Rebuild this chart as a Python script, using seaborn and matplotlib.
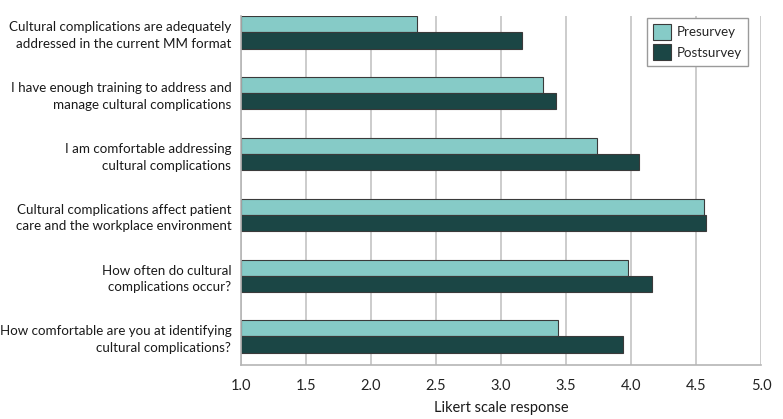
import matplotlib
matplotlib.use("Agg")
import matplotlib.pyplot as plt
import seaborn as sns
import pandas as pd
from matplotlib.patches import Patch

questions = [
    "Cultural complications are adequately\naddressed in the current MM format",
    "I have enough training to address and\nmanage cultural complications",
    "I am comfortable addressing\ncultural complications",
    "Cultural complications affect patient\ncare and the workplace environment",
    "How often do cultural\ncomplications occur?",
    "How comfortable are you at identifying\ncultural complications?",
]
presurvey = [2.35, 3.32, 3.74, 4.56, 3.98, 3.44]
postsurvey = [3.16, 3.42, 4.06, 4.58, 4.16, 3.94]
series = ["Presurvey", "Postsurvey"]
colors = ["#86CBC7", "#1B4645"]
xticks = [1.0, 1.5, 2.0, 2.5, 3.0, 3.5, 4.0, 4.5, 5.0]

df = pd.DataFrame({
    "question": questions * 2,
    "value": presurvey + postsurvey,
    "survey": [series[0]] * len(questions) + [series[1]] * len(questions),
})

sns.set_theme(style="white")
plt.rcParams['font.family'] = ['Lato', 'DejaVu Sans']
FS = 10.5
FSY = 9.6

fig = plt.figure(figsize=(7.83, 4.19), dpi=100)
ax = fig.add_axes([241 / 783, 1 - 365 / 419, 520 / 783, (365 - 16) / 419])

sns.barplot(data=df, y="question", x="value", hue="survey", order=questions,
            hue_order=series, palette=colors, saturation=1, width=0.53, dodge=True,
            edgecolor="#3a3a3a", linewidth=0.8, ax=ax, legend=False,
            orient="h")

# bars start at 1.0
for p in ax.patches:
    w = p.get_width()
    p.set_x(1.0)
    p.set_width(w - 1.0)

ax.set_xlim(1.0, 5.0)
ax.set_ylim(5.47, -0.27)
ax.set_xticks(xticks)
ax.set_xticklabels([f"{t:.1f}" for t in xticks], fontsize=FS, color="#222222")
ax.tick_params(axis="x", direction="out", length=6, width=1, color="#b5b5b5", pad=4)
ax.tick_params(axis="y", length=0, pad=7)
for lbl in ax.get_yticklabels():
    lbl.set_fontsize(FSY)
    lbl.set_color("#1a1a1a")
    lbl.set_horizontalalignment("right")
    lbl.set_multialignment("right")
    lbl.set_linespacing(1.45)
ax.grid(axis="x", color="#c8c8c8", linewidth=1.3)
ax.set_axisbelow(True)
for s in ["top", "right"]:
    ax.spines[s].set_visible(False)
for s in ["left", "bottom"]:
    ax.spines[s].set_color("#b5b5b5")
    ax.spines[s].set_linewidth(1.2)
ax.set_ylabel("")
ax.set_xlabel("Likert scale response", fontsize=FS, color="#1a1a1a", labelpad=6)

handles = [Patch(facecolor=c, edgecolor="#3a3a3a", linewidth=0.8) for c in colors]
leg = ax.legend(handles, series, loc="upper right",
                bbox_to_anchor=((748 - 241) / 520, 1.0 - 2 / 349), borderaxespad=0,
                frameon=True, fancybox=False, fontsize=FSY, handlelength=1.35, handleheight=1.45,
                borderpad=0.45, labelspacing=0.35, handletextpad=0.45)
leg.get_frame().set_edgecolor("#9a9a9a")
leg.get_frame().set_linewidth(1.0)
leg.get_frame().set_facecolor("white")
leg.get_frame().set_alpha(1.0)

fig.savefig("out.png", dpi=100)
